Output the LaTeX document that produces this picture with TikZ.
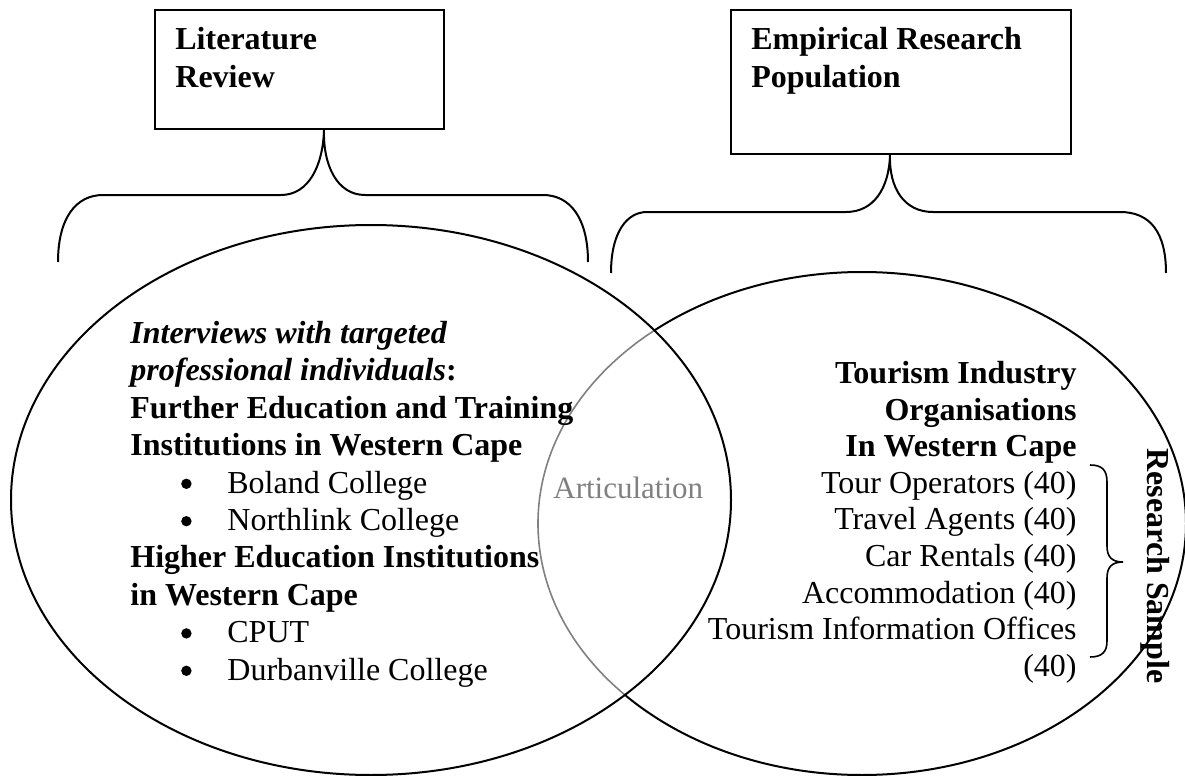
\documentclass[tikz,border=0pt]{standalone}
\usepackage{fontspec}
\setmainfont{Liberation Serif}
\newcommand\capstrut{\rule{0pt}{12pt}}
% round list bullet, drawn as a small filled disc
\newcommand\listdot{\tikz[baseline=0pt]\fill (0pt,4.6pt) circle (2.6pt);}
\newcommand\listitem[1]{\hspace*{25.4pt}\makebox[23.1pt][l]{\listdot}#1}
\begin{document}
\begin{tikzpicture}[x=0.5pt,y=-0.5pt,
  outline/.style={line width=1pt},
  boxnode/.style={draw, line width=1pt, anchor=north west, inner sep=0pt},
  boxtext/.style={anchor=north west, inner sep=0pt, align=left,
    font=\fontsize{16}{19}\selectfont\bfseries},
  bodytext/.style={inner sep=0pt, font=\fontsize{16}{18.7}\selectfont},
  listtext/.style={inner sep=0pt, font=\fontsize{16}{18.3}\selectfont},
]
\useasboundingbox (0,0) rectangle (1185,776);

% title boxes
\node[boxnode, minimum width=144.5pt, minimum height=59.5pt] (litbox) at (154,9) {};
\node[boxtext] (littext) at (175,25) {\capstrut Literature\\Review};
\node[boxnode, minimum width=170pt, minimum height=72pt] (empbox) at (730,9) {};
\node[boxtext] (emptext) at (751,25) {\capstrut Empirical Research\\Population};

\coordinate (littip) at ([xshift=12.25pt]litbox.south);
\coordinate (emptip) at ([xshift=-5.5pt]empbox.south);

% curly braces under the boxes
\draw[outline] (58,262) .. controls (58,218) and (76,195) .. (103,195) -- (281,195)
  .. controls (309,195) and (323,165) .. (littip)
  .. controls (323,165) and (337,195) .. (365,195) -- (543,195)
  .. controls (570,195) and (588,218) .. (588,262);
\draw[outline] (611,273) .. controls (611,232) and (627,212) .. (647,212) -- (846,212)
  .. controls (874,212) and (889,188) .. (emptip)
  .. controls (889,188) and (904,212) .. (933,212) -- (1120,212)
  .. controls (1150,212) and (1166,232) .. (1166,273);

% overlap: the right circle is grey inside the left one
\begin{scope}
  \clip (371,500) ellipse [x radius=360, y radius=275];
  \draw[line width=0.8pt, gray] (862,523.5) ellipse [x radius=324, y radius=251.5];
\end{scope}
\begin{scope}[even odd rule]
  \clip (-20,-20) rectangle (1205,796) (371,500) ellipse [x radius=360, y radius=275];
  \draw[outline] (862,523.5) ellipse [x radius=324, y radius=251.5];
\end{scope}
\draw[outline] (371,500) ellipse [x radius=360, y radius=275];

% left circle contents
\node[bodytext, anchor=north west, align=left] (lefttext) at (130,319) {%
\capstrut\textbf{\textit{Interviews with targeted}}\\
\textbf{\textit{professional individuals}:}\\
\textbf{Further Education and Training}\\
\textbf{Institutions in Western Cape}\\
\listitem{Boland College}\\
\listitem{Northlink College}\\
\textbf{Higher Education Institutions}\\
\textbf{in Western Cape}\\
\listitem{CPUT}\\
\listitem{Durbanville College}};

\node[anchor=base west, inner sep=0pt, text=gray, font=\fontsize{15.5}{18}\selectfont]
  (artic) at (553,498) {Articulation};

% right circle contents
\node[listtext, anchor=north east, align=right] (righttext) at (1077,359) {%
\capstrut\textbf{Tourism Industry}\\
\textbf{Organisations}\\
\textbf{In Western Cape}\\
Tour Operators (40)\\
Travel Agents (40)\\
Car Rentals (40)\\
Accommodation (40)\\
Tourism Information Offices\\
(40)};

\draw[line width=0.8pt] (1090,465) .. controls (1102,465) and (1107,470) .. (1107,482)
  -- (1107,546) .. controls (1107,557) and (1112,562) .. (1123,562)
  .. controls (1112,562) and (1107,567) .. (1107,578)
  -- (1107,641) .. controls (1107,652) and (1102,657) .. (1090,657);

\node[font=\fontsize{16}{19}\selectfont\bfseries, rotate=-90, inner sep=0pt]
  (sample) at (1155,566) {Research Sample};
\end{tikzpicture}
\end{document}
